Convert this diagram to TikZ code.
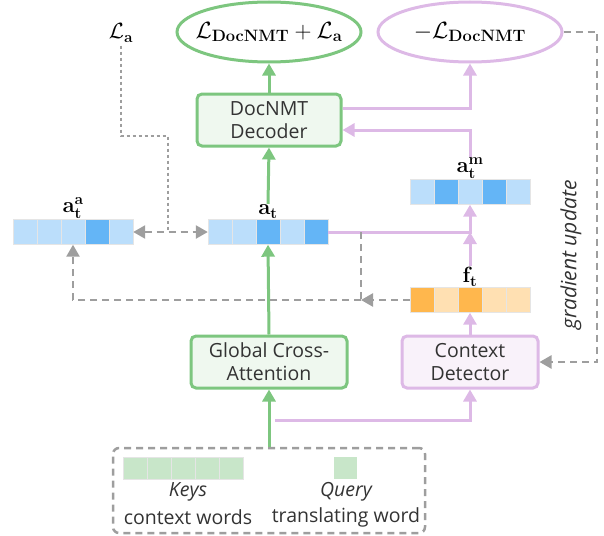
\RequirePackage{fix-cm}
\documentclass[tikz,border=0pt]{standalone}
\usepackage[no-math]{fontspec}
\setmainfont{Open Sans}
\usetikzlibrary{arrows.meta,shapes.geometric,positioning}

\definecolor{grn}{HTML}{7DC67F}
\definecolor{grnfill}{HTML}{EFF8EF}
\definecolor{pnk}{HTML}{DDB9E6}
\definecolor{pnkfill}{HTML}{F9F2FA}
\definecolor{gry}{HTML}{9E9E9E}
\definecolor{lblue}{HTML}{BBDEFB}
\definecolor{dblue}{HTML}{64B5F6}
\definecolor{lorange}{HTML}{FFE0B2}
\definecolor{dorange}{HTML}{FFB74D}
\definecolor{lgreen}{HTML}{C8E6C9}

\tikzset{
  txt/.style={font=\fontsize{19.5}{23}\selectfont, text=black!80},
  mth/.style={font=\fontsize{22}{26}\selectfont},
  block/.style={txt, rounded corners=5pt, line width=3pt, align=center,
    minimum height=52pt, inner sep=0pt},
  gblock/.style={block, draw=grn, fill=grnfill},
  pblock/.style={block, draw=pnk, fill=pnkfill},
  loss/.style={font=\fontsize{23.5}{28}\selectfont, ellipse, line width=3pt,
    minimum width=184pt, minimum height=60pt, inner xsep=-14pt, inner ysep=0pt},
  vec/.style={minimum width=120pt, minimum height=25pt, inner sep=0pt},
  cell/.style={minimum width=24pt, minimum height=25pt, inner sep=0pt,
    draw=black!10, line width=0.8pt, anchor=west},
  garrow/.style={->, draw=grn, line width=3pt},
  pline/.style={draw=pnk, line width=3pt},
  gdashed/.style={draw=gry, line width=2.5pt, dash pattern=on 7pt off 5pt},
}

% row of coloured cells starting at the west side of a vector node
\newcommand{\cellrow}[3][]{%
  \foreach \c [count=\i from 0] in {#3}
    \node[cell, #1, fill=\c] at ([xshift=\i*24pt]#2.west) {};
}

\begin{document}
\begin{tikzpicture}[x=1pt, y=-1pt, >={Triangle[width=13pt,length=12pt]}]
  \useasboundingbox (0,0) rectangle (604,535);

  % Losses
  \node[loss, draw=grn] (lossg) at (269,32)
    {$\mathcal{L}_{\mathbf{DocNMT}}+\mathcal{L}_{\mathbf{a}}$};
  \node[loss, draw=pnk] (lossp) at (470,32) {$-\mathcal{L}_{\mathbf{DocNMT}}$};
  \node[mth] (La) at (121,33) {$\mathcal{L}_{\mathbf{a}}$};

  % Blocks
  \node[gblock, minimum width=144pt] (dec) at (269,120) {DocNMT\\Decoder};
  \node[gblock, minimum width=156pt] (gca) at (269,362) {Global Cross-\\Attention};
  \node[pblock, minimum width=136pt] (cd) at (470,362) {Context\\Detector};

  % Vectors
  \node[vec] (ata) at (73,232) {};
  \cellrow{ata}{lblue,lblue,lblue,dblue,lblue}
  \node[mth, above=0pt of ata, inner sep=1pt] (atal) {$\mathbf{a}_{\mathbf{t}}^{\mathbf{a}}$};

  \node[vec] (at) at (268,232) {};
  \cellrow{at}{lblue,lblue,dblue,lblue,dblue}
  \node[mth, above=0pt of at, inner sep=1pt] (atl) {$\mathbf{a}_{\mathbf{t}}$};

  \node[vec] (atm) at (470,192) {};
  \cellrow{atm}{lblue,dblue,lblue,dblue,lblue}
  \node[mth, above=0pt of atm, inner sep=1pt] (atml) {$\mathbf{a}_{\mathbf{t}}^{\mathbf{m}}$};

  \node[vec] (ft) at (470,300) {};
  \cellrow{ft}{dorange,lorange,dorange,lorange,lorange}
  \node[mth, above=0pt of ft, inner sep=1pt] (ftl) {$\mathbf{f}_{\mathbf{t}}$};

  % Input
  \node[gdashed, rounded corners=6pt, minimum width=312pt, minimum height=85pt]
    (inp) at (269,490.5) {};
  \node[vec, minimum height=22pt] (keys) at (183,468) {};
  \cellrow[minimum height=22pt]{keys}{lgreen,lgreen,lgreen,lgreen,lgreen}
  \node[cell, anchor=center, minimum width=23pt, minimum height=22pt, draw=none,
    fill=lgreen] (query) at (345,468) {};
  \node[txt, font=\fontsize{19.5}{23}\selectfont\itshape] (keyst) at (188,492) {Keys};
  \node[txt] (ctxt) at (188,517) {context words};
  \node[txt, font=\fontsize{19.5}{23}\selectfont\itshape] (queryt) at (346,492) {Query};
  \node[txt] (trt) at (346,517) {translating word};

  \node[txt, font=\fontsize{21}{24}\selectfont\itshape, rotate=90] (grad)
    at (571,255) {gradient update};

  % Green path
  \draw[garrow] (inp.north) -- (gca.south);
  \draw[garrow] (gca.north) -- (at.south);
  \draw[garrow] (atl.north) -- (dec.south);
  \draw[garrow] (dec.north) -- (lossg.south);

  % Pink path
  \coordinate (qsplit) at (275,420);
  \draw[pline, ->] (qsplit) -| (cd.south);
  \draw[pline, ->] (cd.north) -- (ft.south);
  \draw[pline, ->] (ftl.north) -- (ftl.north |- at.east);
  \draw[pline, ->] (at.east) -| (atm.south);
  \draw[pline, ->] (atml.north) |- ([yshift=-10pt]dec.east);
  \draw[pline, ->] ([yshift=12pt]dec.east) -| (lossp.south);

  % Gray path
  \coordinate (dbend) at (168,136);
  \coordinate (jn) at (361,300);
  \coordinate (gr) at (597,32);
  \draw[draw=gry, line width=2.5pt, dash pattern=on 3pt off 3pt]
    (La.south) |- (dbend) -- (dbend |- at.west);
  \draw[gdashed, <->] (ata.east) -- (at.west);
  \draw[gdashed, ->] (ft.west) -- (jn);
  \draw[gdashed] (jn |- at.east) -- (jn);
  \draw[gdashed, ->] (jn) -| (ata.south);
  \draw[gdashed, ->] (lossp.east) -- (gr) |- (cd.east);
\end{tikzpicture}
\end{document}
